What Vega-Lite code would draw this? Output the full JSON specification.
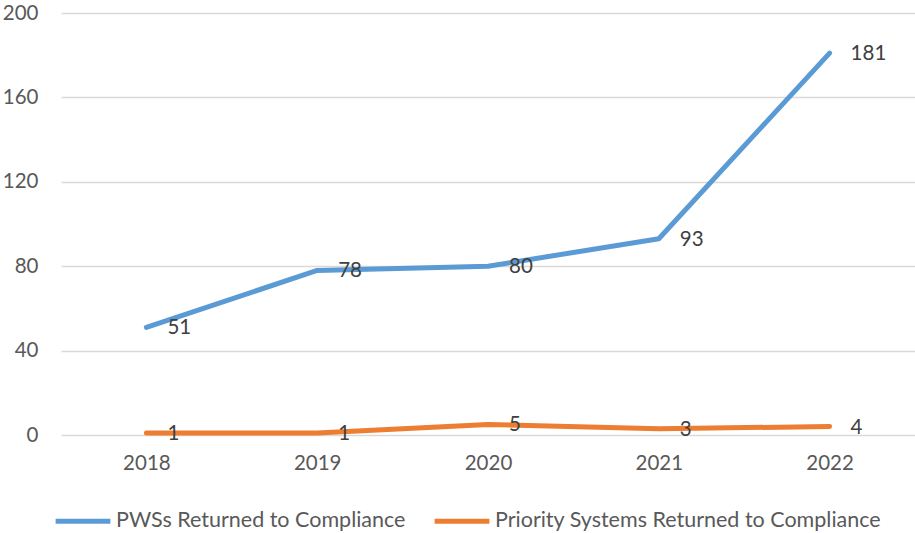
{
  "$schema": "https://vega.github.io/schema/vega-lite/v6.json",
  "autosize": {"type": "none"},
  "width": 854,
  "height": 422,
  "padding": {"left": 61, "top": 13, "right": 0, "bottom": 98},
  "config": {
    "view": {"stroke": null},
    "font": "Lato",
    "axis": {"labelFont": "Lato", "labelFontSize": 20.5, "labelColor": "#595959"},
    "legend": {"labelFont": "Lato", "labelFontSize": 21.5, "labelColor": "#595959"}
  },
  "data": {
    "values": [
      {"year": "2018", "series": "PWSs Returned to Compliance", "value": 51},
      {"year": "2019", "series": "PWSs Returned to Compliance", "value": 78},
      {"year": "2020", "series": "PWSs Returned to Compliance", "value": 80},
      {"year": "2021", "series": "PWSs Returned to Compliance", "value": 93},
      {"year": "2022", "series": "PWSs Returned to Compliance", "value": 181},
      {"year": "2018", "series": "Priority Systems Returned to Compliance", "value": 1},
      {"year": "2019", "series": "Priority Systems Returned to Compliance", "value": 1},
      {"year": "2020", "series": "Priority Systems Returned to Compliance", "value": 5},
      {"year": "2021", "series": "Priority Systems Returned to Compliance", "value": 3},
      {"year": "2022", "series": "Priority Systems Returned to Compliance", "value": 4}
    ]
  },
  "encoding": {
    "x": {
      "field": "year", "type": "ordinal",
      "scale": {"type": "point", "padding": 0.5},
      "axis": {"title": null, "labelAngle": 0, "domain": false, "ticks": false, "grid": false, "labelPadding": 18}
    },
    "y": {
      "field": "value", "type": "quantitative",
      "scale": {"domain": [0, 200], "nice": false},
      "axis": {"title": null, "values": [0, 40, 80, 120, 160, 200], "domain": false, "ticks": false, "grid": true, "gridColor": "#D9D9D9", "gridWidth": 1.3, "labelPadding": 23}
    }
  },
  "layer": [
    {
      "mark": {"type": "line", "strokeWidth": 5, "strokeCap": "round", "strokeJoin": "round"},
      "encoding": {
        "color": {
          "field": "series", "type": "nominal",
          "scale": {
            "domain": ["PWSs Returned to Compliance", "Priority Systems Returned to Compliance"],
            "range": ["#5B9BD5", "#ED7D31"]
          },
          "legend": {
            "title": null, "orient": "none", "direction": "horizontal",
            "legendX": -8, "legendY": 478,
            "symbolType": "stroke", "symbolSize": 3000, "symbolStrokeWidth": 5,
            "labelOffset": 3, "columnPadding": 18, "labelLimit": 500
          }
        }
      }
    },
    {
      "mark": {"type": "text", "align": "left", "baseline": "middle", "dx": 21, "dy": 1, "fontSize": 20.5, "font": "Lato", "color": "#404040"},
      "encoding": {
        "text": {"field": "value", "type": "quantitative"},
        "color": {"value": "#404040"}
      }
    }
  ]
}
